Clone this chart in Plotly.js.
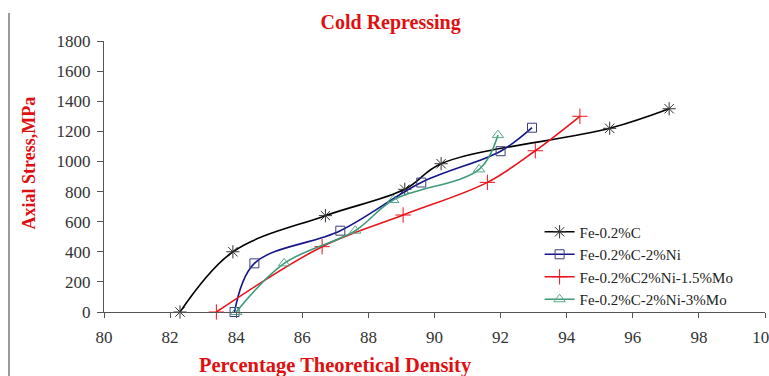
<!DOCTYPE html>
<html>
<head>
<meta charset="utf-8">
<script src="https://cdn.plot.ly/plotly-3.0.1.min.js"></script>
<style>html,body{margin:0;padding:0;background:#fff;}#chart{width:769px;height:376px;}</style>
</head>
<body>
<div id="chart"></div>
<script>
const seriesNames = ["Fe-0.2%C", "Fe-0.2%C-2%Ni", "Fe-0.2%C2%Ni-1.5%Mo", "Fe-0.2%C-2%Ni-3%Mo"];

const densityC = [82.3, 83.9, 86.7, 89.1, 90.2, 95.3, 97.1];
const stressC  = [0, 400, 640, 815, 985, 1220, 1350];

const densityNi = [83.95, 84.55, 87.15, 89.6, 92.0, 92.95];
const stressNi  = [0, 323, 540, 860, 1068, 1224];

const densityNiMo15 = [83.4, 86.6, 89.05, 91.6, 93.05, 94.4];
const stressNiMo15  = [0, 434, 644, 861, 1071, 1300];

const densityNiMo3 = [84.0, 85.45, 87.6, 88.75, 91.35, 91.92];
const stressNiMo3  = [0, 323, 540, 744, 947, 1175];

const xTicks = [80, 82, 84, 86, 88, 90, 92, 94, 96, 98, 100];
const yTicks = [0, 200, 400, 600, 800, 1000, 1200, 1400, 1600, 1800];

const serif = "Liberation Serif";

function mk(name, x, y, color, symbol, msize, mcolor) {
  return {
    type: "scatter", mode: "lines+markers", name: name, x: x, y: y,
    line: {color: color, width: 1.6, shape: "spline", smoothing: 1},
    marker: {symbol: symbol, size: msize, color: mcolor, line: {color: mcolor, width: 1}},
    cliponaxis: false
  };
}

const data = [
  mk(seriesNames[0], densityC, stressC, "#000000", "asterisk-open", 11, "#333333"),
  mk(seriesNames[1], densityNi, stressNi, "#15158a", "square-open", 9, "#3c3c7a"),
  mk(seriesNames[2], densityNiMo15, stressNiMo15, "#e8141c", "cross-thin-open", 11, "#e8141c"),
  mk(seriesNames[3], densityNiMo3, stressNiMo3, "#3f9a78", "triangle-up-open", 10, "#5aa88a")
];

const layout = {
  width: 769, height: 376,
  margin: {l: 104, r: 4, t: 41, b: 64},
  paper_bgcolor: "#ffffff", plot_bgcolor: "#ffffff",
  font: {family: serif, size: 16, color: "#333"},
  showlegend: true,
  title: {
    text: "<b>Cold Repressing</b>",
    font: {family: serif, size: 20, color: "#e01010"},
    x: 0.508, xref: "container", xanchor: "center",
    y: 0.941, yref: "container", yanchor: "middle"
  },
  xaxis: {
    range: [80, 100], tickvals: xTicks, ticktext: xTicks.map(String),
    showgrid: false, zeroline: false, showline: true, linecolor: "#555", linewidth: 1,
    ticks: "outside", ticklen: 5, tickcolor: "#555",
    ticklabeloverflow: "allow", ticklabelstandoff: 5,
    tickfont: {family: serif, size: 17, color: "#333"}
  },
  yaxis: {
    range: [0, 1800], tickvals: yTicks, ticktext: yTicks.map(String),
    showgrid: false, zeroline: false, showline: true, linecolor: "#555", linewidth: 1,
    ticks: "outside", ticklen: 6, tickcolor: "#555",
    ticklabelstandoff: 3,
    tickfont: {family: serif, size: 17, color: "#333"}
  },
  legend: {
    x: 0.659, y: 0.356, xanchor: "left", yanchor: "top",
    bgcolor: "rgba(255,255,255,0)", borderwidth: 0,
    font: {family: serif, size: 15, color: "#222"},
    itemwidth: 30, tracegroupgap: 0
  },
  annotations: [
    {text: "<b>Percentage Theoretical Density</b>", xref: "paper", yref: "paper",
     x: 0.35, y: -0.196, xanchor: "center", yanchor: "middle", showarrow: false,
     font: {family: serif, size: 20.5, color: "#e01010"}},
    {text: "<b>Axial Stress,MPa</b>", xref: "paper", yref: "paper",
     x: -0.1128, y: 0.55, xanchor: "center", yanchor: "middle", showarrow: false, textangle: -90,
     font: {family: serif, size: 18, color: "#e01010"}}
  ],
  shapes: [
    {type: "line", xref: "paper", yref: "paper", x0: -0.1437, x1: -0.1437, y0: 1.103, y1: -0.25,
     line: {color: "#999", width: 2}}
  ]
};

Plotly.newPlot("chart", data, layout, {displayModeBar: false, staticPlot: true});
</script>
</body>
</html>
